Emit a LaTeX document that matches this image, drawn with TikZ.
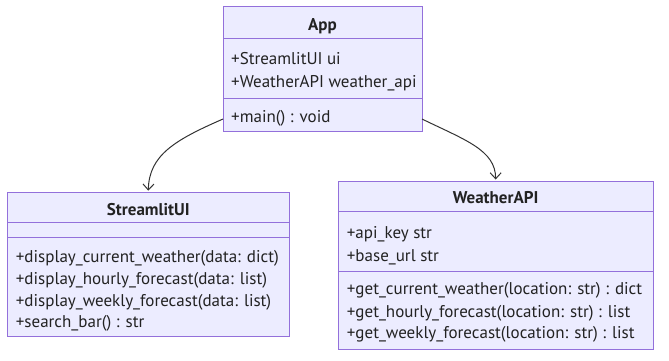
\documentclass[tikz,border=0pt]{standalone}
\usepackage{fontspec}
\setmainfont{PT Sans}
\usetikzlibrary{arrows.meta}
\definecolor{boxfill}{HTML}{ECECFF}
\definecolor{boxline}{HTML}{9370DB}
\definecolor{ink}{HTML}{333333}
\definecolor{txt}{HTML}{222222}
\begin{document}
\begin{tikzpicture}[x=1pt,y=-1pt,
  classbox/.style={draw=boxline, fill=boxfill, line width=1pt, inner sep=0pt, outer sep=0pt, anchor=north west},
  divider/.style={draw=boxline, line width=1pt},
  member/.style={anchor=base west, inner sep=0pt, text=txt, font=\fontsize{17}{20}\selectfont},
  title/.style={anchor=base, inner sep=0pt, text=txt, font=\fontsize{17}{20}\selectfont\bfseries},
  link/.style={draw=ink, line width=1pt, -{Straight Barb[length=6pt,width=11pt]}}]

\useasboundingbox (0,0) rectangle (669,361);

% App class
\node[classbox, minimum width=199pt, minimum height=124pt] (app) at (223,7) {};
\draw[divider] (223,38.3) -- (422,38.3);
\draw[divider] (223,98.7) -- (422,98.7);
\node[title] (appname) at (322.5,31) {App};
\node[member] (appa1) at (231,65) {+StreamlitUI ui};
\node[member] (appa2) at (231,87.5) {+WeatherAPI weather\_api};
\node[member] (appm1) at (231,122) {+main() : void};

% StreamlitUI class
\node[classbox, minimum width=282pt, minimum height=144pt] (sui) at (7.3,192.7) {};
\draw[divider] (7.3,222.3) -- (289.3,222.3);
\draw[divider] (7.3,237.7) -- (289.3,237.7);
\node[title] (suiname) at (148.3,215.3) {StreamlitUI};
\node[member] (suim1) at (15.7,262) {+display\_current\_weather(data: dict)};
\node[member] (suim2) at (15.7,284.3) {+display\_hourly\_forecast(data: list)};
\node[member] (suim3) at (15.7,306) {+display\_weekly\_forecast(data: list)};
\node[member] (suim4) at (15.7,327.7) {+search\_bar() : str};

% WeatherAPI class
\node[classbox, minimum width=315.3pt, minimum height=168pt] (wapi) at (338,181) {};
\draw[divider] (338,211.3) -- (653.3,211.3);
\draw[divider] (338,271) -- (653.3,271);
\node[title] (wapiname) at (495.6,203.3) {WeatherAPI};
\node[member] (wapia1) at (346.7,238.3) {+api\_key str};
\node[member] (wapia2) at (346.7,261) {+base\_url str};
\node[member] (wapim1) at (346.7,294.3) {+get\_current\_weather(location: str) : dict};
\node[member] (wapim2) at (346.7,317) {+get\_hourly\_forecast(location: str) : list};
\node[member] (wapim3) at (346.7,338.7) {+get\_weekly\_forecast(location: str) : list};

% associations
\draw[link] ([yshift=12pt]app.south west) .. controls (175,140) and (149,155) .. ([yshift=2pt]sui.north);
\draw[link] ([yshift=12pt]app.south east) .. controls (465,140) and (495.6,150) .. ([yshift=1.5pt]wapi.north);
\end{tikzpicture}
\end{document}
